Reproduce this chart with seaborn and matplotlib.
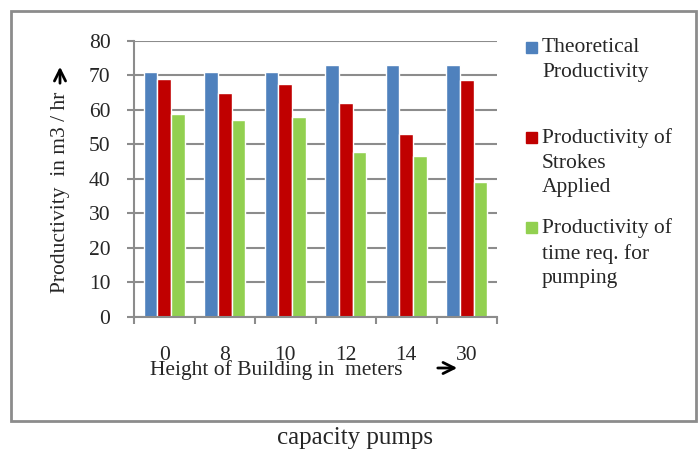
import matplotlib
matplotlib.use("Agg")
import matplotlib.pyplot as plt
import seaborn as sns
import pandas as pd
from matplotlib.patches import Rectangle

heights = ["0", "8", "10", "12", "14", "30"]
theoretical = [71, 71, 71, 73, 73, 73]
strokes = [69, 65, 67.5, 62, 53, 68.7]
time_req = [58.7, 57.1, 57.9, 47.8, 46.6, 39.1]
series_names = ["Theoretical\nProductivity",
                "Productivity of\nStrokes\nApplied",
                "Productivity of\ntime req. for\npumping"]
colors = ["#4F81BD", "#C00000", "#92D050"]

rows = []
for name, vals in zip(series_names, [theoretical, strokes, time_req]):
    for h, v in zip(heights, vals):
        rows.append({"Height": h, "Series": name, "Value": v})
df = pd.DataFrame(rows)

sns.set_style("white")
plt.rcParams["font.family"] = ["Liberation Serif", "DejaVu Serif"]

FS = 15.5
W, H = 700, 451
fig = plt.figure(figsize=(7, 4.51), dpi=100)
ax = fig.add_axes([134 / W, 1 - 317 / H, (497 - 134) / W, (317 - 40.7) / H])

sns.barplot(data=df, x="Height", y="Value", hue="Series", order=heights,
            hue_order=series_names, palette=colors, width=0.67,
            saturation=1, ax=ax, legend=False)

ax.set_ylim(0, 80)
ax.set_xlim(-0.5, len(heights) - 0.5)
ax.set_yticks(range(0, 81, 10))
ax.yaxis.grid(True, color="#8c8c8c", linewidth=1.5)
ax.set_axisbelow(True)
for s in ["top", "right"]:
    ax.spines[s].set_visible(False)
for s in ["left", "bottom"]:
    ax.spines[s].set_color("#8c8c8c")
    ax.spines[s].set_linewidth(1.5)
ax.tick_params(axis="y", which="major", left=True, length=5, width=1.5,
               color="#8c8c8c", labelsize=FS, pad=12)
ax.tick_params(axis="x", which="major", length=0, labelsize=FS, pad=21)
ax.set_xticks([i + 0.5 for i in range(-1, len(heights))], minor=True)
ax.tick_params(axis="x", which="minor", bottom=True, length=5, width=1.5,
               color="#8c8c8c")
ax.set_xlabel("")
ax.set_ylabel("")

# axis titles
fig.text(276 / W, 1 - 370 / H, "Height of Building in  meters", ha="center",
         va="center", fontsize=FS)
fig.add_artist(plt.Annotation("", xy=(460 / W, 1 - 368 / H), xytext=(435 / W, 1 - 368 / H),
                              xycoords="figure fraction",
                              arrowprops=dict(arrowstyle="->", lw=2, color="black",
                                              mutation_scale=20)))
fig.text(60 / W, 1 - 192 / H, "Productivity  in m3 / hr", rotation=90,
         ha="center", va="center", fontsize=FS)
fig.add_artist(plt.Annotation("", xy=(60 / W, 1 - 64 / H), xytext=(60 / W, 1 - 86 / H),
                              xycoords="figure fraction",
                              arrowprops=dict(arrowstyle="->", lw=2, color="black",
                                              mutation_scale=20)))

# legend
leg_y = [48, 138, 228]
for name, c, y in zip(series_names, colors, leg_y):
    fig.add_artist(Rectangle((526 / W, 1 - (y + 5) / H), 11 / W, 11 / H,
                             transform=fig.transFigure, color=c))
    fig.text(542 / W, 1 - (y - 10) / H, name, ha="left", va="top",
             fontsize=FS, linespacing=1.4)

# outer frame
fig.add_artist(Rectangle((11 / W, 1 - 421 / H), (696 - 11) / W, (421 - 11) / H,
                         transform=fig.transFigure, fill=False,
                         edgecolor="#8c8c8c", linewidth=2))

fig.text(355 / W, 1 - 438 / H, "capacity pumps", ha="center", va="center",
         fontsize=18)

fig.savefig("out.png", dpi=100)
